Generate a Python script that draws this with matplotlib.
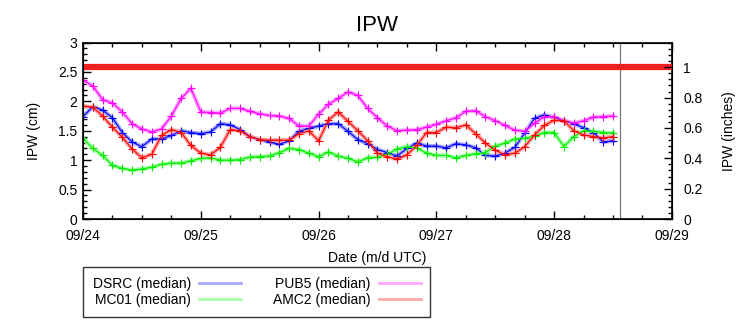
import matplotlib
matplotlib.use('Agg')
import matplotlib.pyplot as plt
from matplotlib.ticker import MultipleLocator, FormatStrFormatter
import numpy as np

plt.rcParams['font.family'] = ['Liberation Sans', 'DejaVu Sans']

# hours since 09/24 00 UTC, one value every 2 h
hours = np.arange(0, 110, 2)

dsrc = [1.74, 1.91, 1.85, 1.72, 1.47, 1.31, 1.23, 1.36, 1.36, 1.42, 1.50, 1.47, 1.45, 1.48, 1.62,
        1.60, 1.52, 1.40, 1.35, 1.31, 1.27, 1.33, 1.49, 1.54, 1.58, 1.62, 1.62, 1.49, 1.35, 1.28,
        1.18, 1.13, 1.07, 1.20, 1.29, 1.24, 1.24, 1.21, 1.28, 1.26, 1.21, 1.08, 1.07, 1.12, 1.22,
        1.46, 1.71, 1.77, 1.73, 1.67, 1.62, 1.55, 1.47, 1.31, 1.33]
mc01 = [1.37, 1.20, 1.08, 0.91, 0.86, 0.83, 0.85, 0.88, 0.93, 0.95, 0.95, 0.99, 1.03, 1.04, 1.00,
        1.00, 1.01, 1.05, 1.06, 1.07, 1.13, 1.20, 1.18, 1.12, 1.06, 1.14, 1.07, 1.03, 0.97, 1.04,
        1.05, 1.10, 1.19, 1.23, 1.21, 1.12, 1.08, 1.08, 1.04, 1.08, 1.11, 1.13, 1.24, 1.29, 1.36,
        1.37, 1.41, 1.47, 1.47, 1.23, 1.40, 1.50, 1.49, 1.47, 1.46]
pub5 = [2.36, 2.26, 2.03, 1.97, 1.82, 1.62, 1.53, 1.48, 1.53, 1.75, 2.05, 2.22, 1.82, 1.81, 1.80,
        1.88, 1.88, 1.83, 1.79, 1.76, 1.75, 1.71, 1.58, 1.58, 1.78, 1.95, 2.05, 2.16, 2.10, 1.88,
        1.72, 1.58, 1.50, 1.51, 1.52, 1.56, 1.61, 1.67, 1.72, 1.83, 1.84, 1.74, 1.67, 1.59, 1.51,
        1.49, 1.63, 1.74, 1.74, 1.67, 1.63, 1.67, 1.73, 1.74, 1.75]
amc2 = [1.92, 1.90, 1.75, 1.56, 1.39, 1.19, 1.04, 1.10, 1.42, 1.52, 1.47, 1.25, 1.12, 1.09, 1.22,
        1.52, 1.50, 1.40, 1.35, 1.34, 1.34, 1.34, 1.45, 1.50, 1.33, 1.68, 1.82, 1.66, 1.50, 1.33,
        1.12, 1.06, 1.02, 1.09, 1.25, 1.47, 1.47, 1.56, 1.55, 1.60, 1.45, 1.29, 1.17, 1.09, 1.12,
        1.23, 1.43, 1.59, 1.68, 1.67, 1.50, 1.43, 1.40, 1.38, 1.40]

threshold_in = 1.0          # inches
cm_per_in = 2.58
now_hour = 109.4
day_labels = ['09/24', '09/25', '09/26', '09/27', '09/28', '09/29']

series = [('DSRC (median)', dsrc, '#0000ff', '#a8a8ff'),
          ('MC01 (median)', mc01, '#00ee00', '#a8ffa8'),
          ('PUB5 (median)', pub5, '#ff00ff', '#ffa8ff'),
          ('AMC2 (median)', amc2, '#ff0000', '#ffa8a8')]

fig = plt.figure(figsize=(7.56, 3.24), dpi=100)
ax = fig.add_axes([0.1098, 0.324, 0.779, 0.5448])

handles = []
for name, vals, dark, light in series:
    h, = ax.plot(hours, vals, color=light, lw=3, label=name, zorder=2)
    ax.plot(hours, vals, color=dark, lw=0.8, marker='+', ms=6, mew=0.8, zorder=3)
    handles.append(h)

ax.axhline(threshold_in * cm_per_in, color='#ee2020', lw=4.5, zorder=4)
ax.axvline(now_hour, color='#777777', lw=0.9, zorder=1)

ax.set_xlim(0, 120)
ax.set_ylim(0, 3)
ax.set_xticks(np.arange(0, 121, 24))
ax.set_xticklabels(day_labels)
ax.xaxis.set_minor_locator(MultipleLocator(6))
ax.yaxis.set_major_locator(MultipleLocator(0.5))
ax.yaxis.set_minor_locator(MultipleLocator(0.1))
ax.yaxis.set_major_formatter(FormatStrFormatter('%g'))
ax.tick_params(which='both', direction='in', top=True, labelsize=10, pad=4)
ax.tick_params(axis='x', pad=7)
ax.tick_params(which='major', length=6, width=1)
ax.tick_params(which='minor', length=3, width=1)
for s in ax.spines.values():
    s.set_linewidth(1.2)

ax.set_ylabel('IPW (cm)', fontsize=10, labelpad=12)
ax.set_xlabel('Date (m/d UTC)', fontsize=10, labelpad=6)
ax.set_title('IPW', fontsize=16, pad=8)

ax2 = ax.twinx()
ax2.set_ylim(0, 3 / cm_per_in)
ax2.yaxis.set_major_locator(MultipleLocator(0.2))
ax2.yaxis.set_minor_locator(MultipleLocator(0.04))
ax2.yaxis.set_major_formatter(FormatStrFormatter('%g'))
ax2.tick_params(which='both', direction='in', labelsize=10, pad=8)
ax2.tick_params(which='major', length=6, width=1)
ax2.tick_params(which='minor', length=3, width=1)
ax2.set_ylabel('IPW (inches)', fontsize=10, labelpad=14)
ax.tick_params(axis='y', which='both', right=False)

fig.legend(handles=handles, labels=[s[0] for s in series],
           loc='upper left', bbox_to_anchor=(83 / 756, 1 - 267 / 324), ncol=2,
           markerfirst=False, frameon=True, fancybox=False, edgecolor='black',
           fontsize=10, handlelength=3.0, handletextpad=0.6, columnspacing=2.3,
           borderpad=0.7, labelspacing=0.15, borderaxespad=0)
for line in fig.legends[0].get_lines():
    line.set_linewidth(2)

fig.savefig('out.png', dpi=100)
